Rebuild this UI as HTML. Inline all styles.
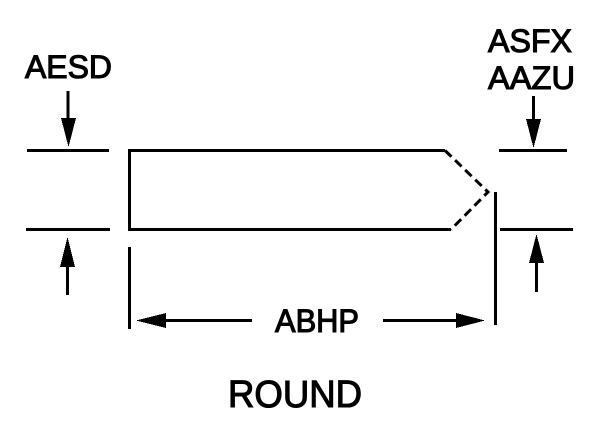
<!DOCTYPE html>
<html>
<head>
<meta charset="utf-8">
<style>
html,body{margin:0;padding:0;background:#fff;width:600px;height:448px;overflow:hidden}
svg{display:block}
text{font-family:"Liberation Sans",Arial,sans-serif;fill:#000;stroke:#000;stroke-width:1.1;paint-order:stroke}
</style>
</head>
<body>
<svg width="600" height="448" viewBox="0 0 600 448" xmlns="http://www.w3.org/2000/svg">
<rect width="600" height="448" fill="#fff"/>
<g stroke="#000" stroke-width="3" fill="none" shape-rendering="crispEdges">
<path d="M27 150.500H109M26 229.500H110M499 150.500H567M500 229.500H573"/>
<path d="M129.500 247V329"/>
<path d="M495.500 192V325"/>
<path d="M445 150.500H129.500V229.500H451"/>
<path d="M68 91V122M533.500 96V122M67.500 264V295M536.500 260V292M160 320.500H252M383 320.500H460"/>
</g>
<path d="M445 150.500L488 192L451 229.500" stroke="#000" stroke-width="3" fill="none" stroke-dasharray="9 5"/>
<g fill="#000" shape-rendering="crispEdges">
<polygon points="61,118 76,118 68.500,147"/>
<polygon points="526,119 541,119 533.500,148"/>
<polygon points="60,267 75,267 67.500,237"/>
<polygon points="529,263 544,263 536.500,234"/>
<polygon points="136,320.500 166,313 166,328"/>
<polygon points="485,320.500 456,313 456,328"/>
</g>
<text x="25" y="78" font-size="32" textLength="87" lengthAdjust="spacingAndGlyphs">AESD</text>
<text x="488" y="52" font-size="32" textLength="84" lengthAdjust="spacingAndGlyphs">ASFX</text>
<text x="488" y="89" font-size="32" textLength="87" lengthAdjust="spacingAndGlyphs">AAZU</text>
<text x="275" y="332" font-size="32" textLength="84" lengthAdjust="spacingAndGlyphs">ABHP</text>
<text x="228" y="407" font-size="38" textLength="134" lengthAdjust="spacingAndGlyphs">ROUND</text>
</svg>
</body>
</html>
